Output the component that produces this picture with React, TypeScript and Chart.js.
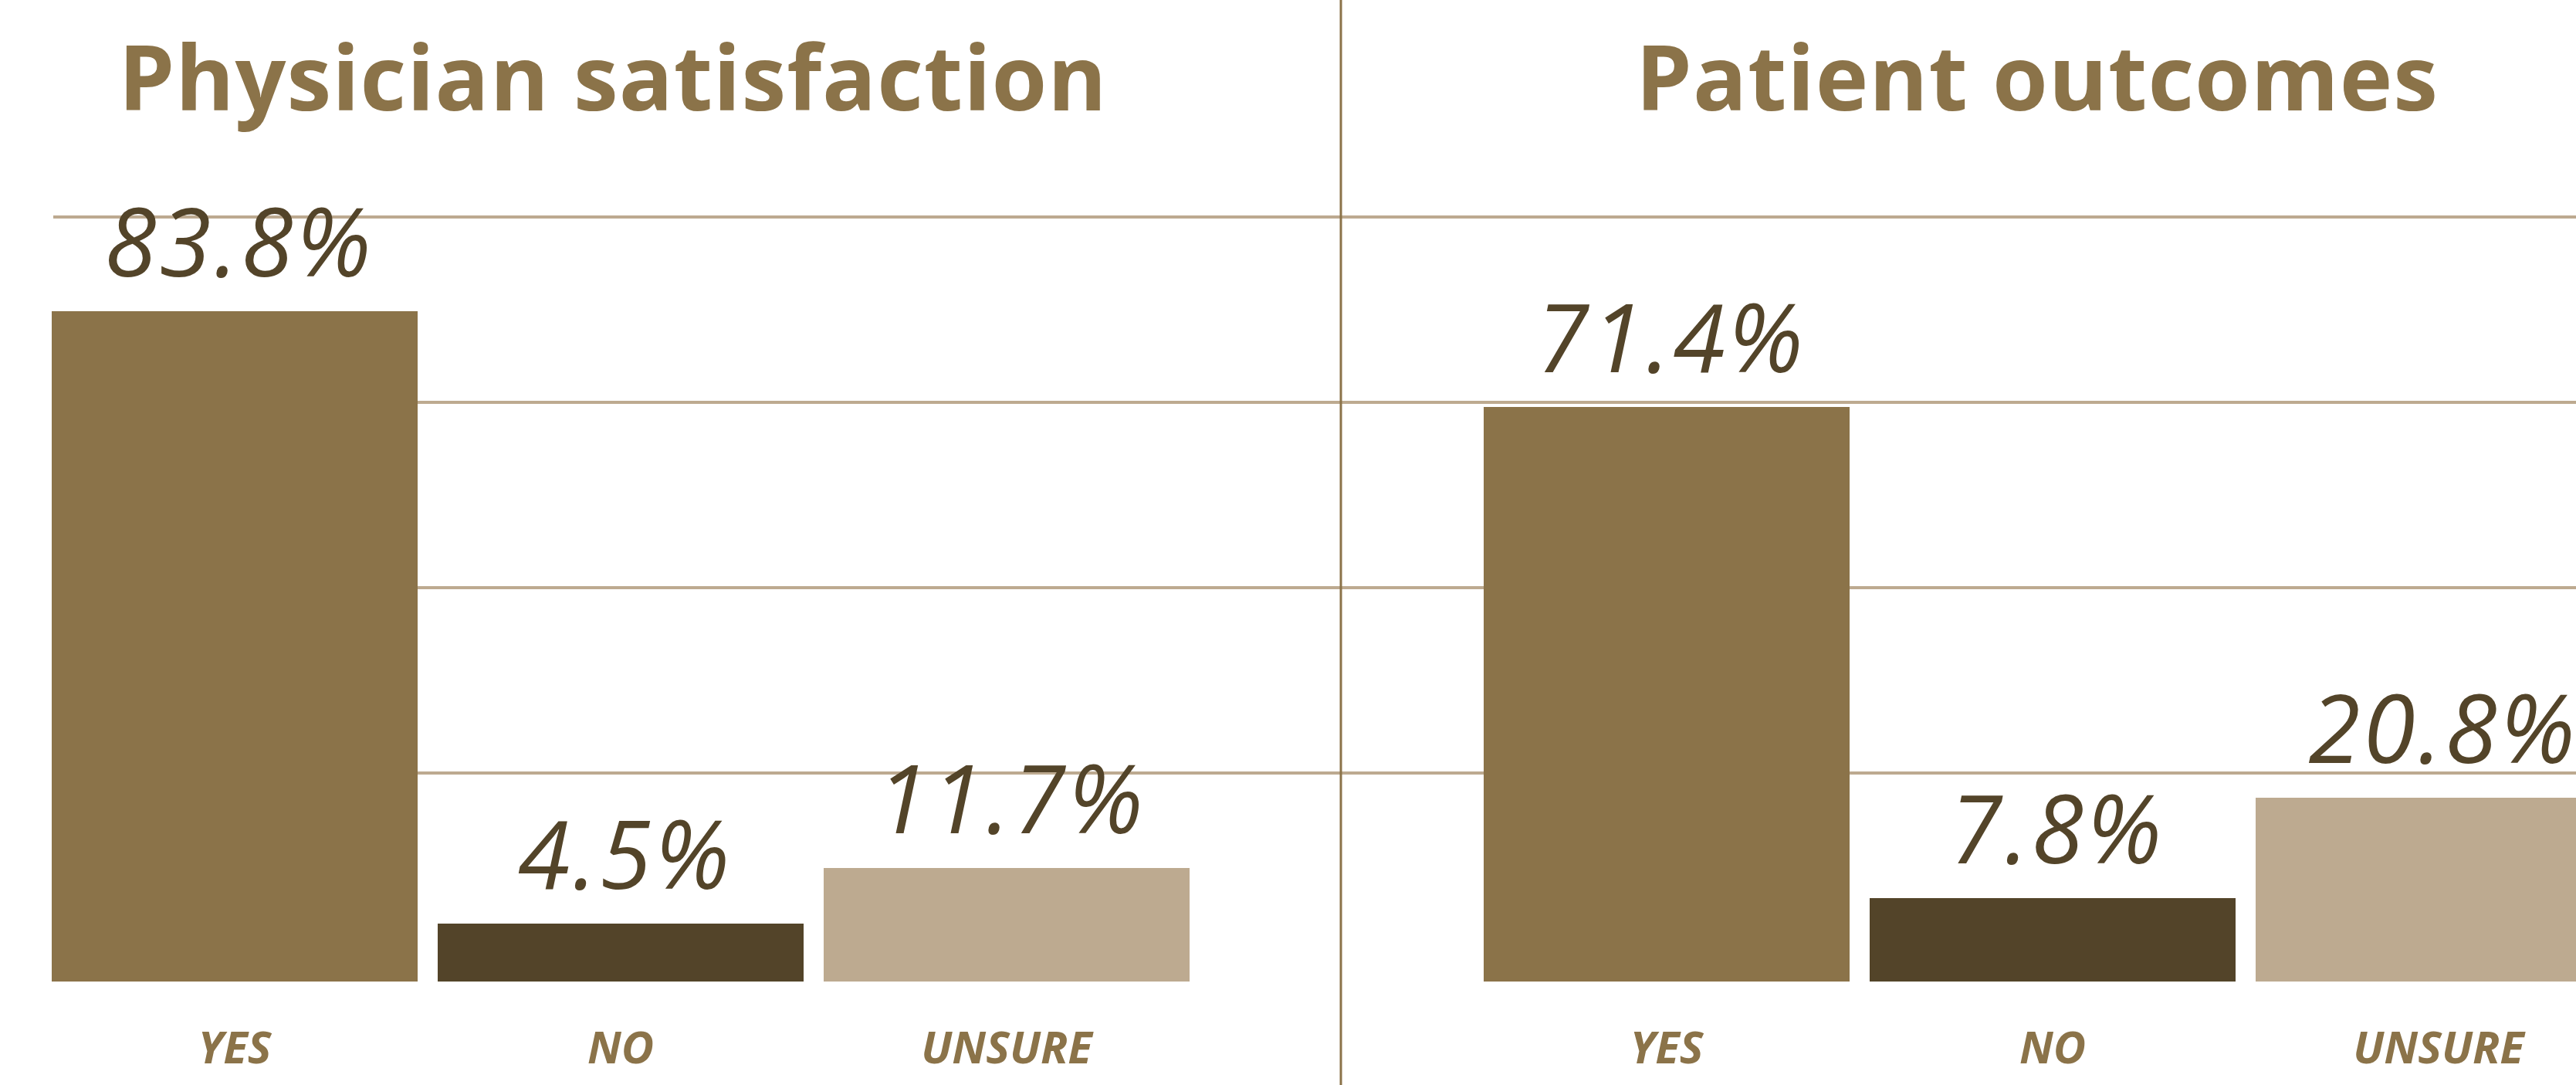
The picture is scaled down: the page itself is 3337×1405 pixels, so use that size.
import React, { useEffect, useRef } from 'react';
import { Chart, registerables } from 'chart.js';

Chart.register(...registerables);

// ---- data ----
const categories = ['YES', 'NO', 'UNSURE'];
const physicianSatisfaction = [83.8, 4.5, 11.7];
const patientOutcomes = [71.4, 7.8, 20.8];
const gridValues = [24, 48, 72, 96];
const axisMin = -3;
const axisMax = 100;
const titles = ['Physician satisfaction', 'Patient outcomes'];

// ---- styles ----
const barColors = ['#8B7349', '#534429', '#BDAA90'];
const TITLE_COLOR = '#8B7349';
const VALUE_COLOR = '#534429';
const GRID_COLOR = '#BDAA90';
const DIVIDER_COLOR = '#8B7349';
const FONT = '"Open Sans", "Noto Sans", sans-serif';

const decorPlugin = {
  id: 'decor',
  beforeDatasetsDraw(chart: any, _args: any, opts: any) {
    const { ctx, chartArea, scales } = chart;
    const y = scales.y;
    ctx.save();
    ctx.strokeStyle = GRID_COLOR;
    ctx.lineWidth = 4;
    const x0 = opts.gridFromArea ? chartArea.left + 15 : 0;
    gridValues.forEach((v) => {
      const py = Math.round(y.getPixelForValue(v));
      ctx.beginPath();
      ctx.moveTo(x0, py);
      ctx.lineTo(chart.width, py);
      ctx.stroke();
    });
    ctx.restore();
  },
  afterDatasetsDraw(chart: any, _args: any, opts: any) {
    const { ctx, chartArea } = chart;
    const meta = chart.getDatasetMeta(0);
    const data = chart.data.datasets[0].data as number[];
    ctx.save();
    ctx.font = `italic 400 122px ${FONT}`;
    ctx.fillStyle = VALUE_COLOR;
    ctx.textAlign = 'center';
    ctx.textBaseline = 'alphabetic';
    try {
      (ctx as any).letterSpacing = '4px';
    } catch (e) {}
    meta.data.forEach((bar: any, i: number) => {
      ctx.fillText(`${data[i].toFixed(1)}%`, bar.x + 6, bar.y - 45);
    });
    try {
      (ctx as any).letterSpacing = '1px';
    } catch (e) {}
    ctx.font = `700 116px ${FONT}`;
    ctx.fillStyle = TITLE_COLOR;
    ctx.fillText(opts.title, (chartArea.left + chartArea.right) / 2 + opts.titleShift, 143);
    if (opts.divider) {
      ctx.strokeStyle = DIVIDER_COLOR;
      ctx.lineWidth = 3;
      ctx.beginPath();
      ctx.moveTo(chart.width - 2, 0);
      ctx.lineTo(chart.width - 2, chart.height);
      ctx.stroke();
    }
    ctx.restore();
  },
};

type PanelProps = {
  values: number[];
  title: string;
  left: number;
  width: number;
  padLeft: number;
  padRight: number;
  gridFromArea: boolean;
  divider: boolean;
  titleShift: number;
};

function Panel(p: PanelProps) {
  const ref = useRef<HTMLCanvasElement | null>(null);
  useEffect(() => {
    if (!ref.current) return;
    const chart = new Chart(ref.current, {
      type: 'bar',
      data: {
        labels: categories,
        datasets: [
          {
            data: p.values,
            backgroundColor: barColors,
            base: axisMin,
            barPercentage: 0.948,
            categoryPercentage: 1,
            borderWidth: 0,
          } as any,
        ],
      },
      options: {
        responsive: false,
        animation: false,
        devicePixelRatio: 1,
        layout: { padding: { top: 241, bottom: 10, left: p.padLeft, right: p.padRight } },
        plugins: {
          legend: { display: false },
          tooltip: { enabled: false },
          title: { display: false },
          decor: {
            title: p.title,
            gridFromArea: p.gridFromArea,
            divider: p.divider,
            titleShift: p.titleShift,
          },
        } as any,
        scales: {
          x: {
            grid: { display: false },
            border: { display: false },
            afterFit: (scale: any) => {
              scale.height = 124;
            },
            ticks: {
              color: TITLE_COLOR,
              padding: 47,
              font: { family: FONT, size: 58, weight: 'bold', style: 'italic' },
            },
          },
          y: { display: false, min: axisMin, max: axisMax },
        },
      },
      plugins: [decorPlugin],
    });
    return () => chart.destroy();
  }, []);
  return (
    <canvas
      ref={ref}
      width={p.width}
      height={1405}
      style={{ position: 'absolute', left: p.left, top: 0, width: p.width, height: 1405 }}
    />
  );
}

export default function App() {
  useEffect(() => {
    document.body.style.margin = '0';
  }, []);
  return (
    <div
      style={{
        position: 'relative',
        width: 3337,
        height: 1405,
        overflow: 'hidden',
        background: '#ffffff',
      }}
    >
      <Panel
        values={physicianSatisfaction}
        title={titles[0]}
        left={0}
        width={1739}
        padLeft={54}
        padRight={185}
        gridFromArea={true}
        divider={true}
        titleShift={-10}
      />
      <Panel
        values={patientOutcomes}
        title={titles[1]}
        left={1739}
        width={1700}
        padLeft={170}
        padRight={30}
        gridFromArea={false}
        divider={false}
        titleShift={-20}
      />
    </div>
  );
}
